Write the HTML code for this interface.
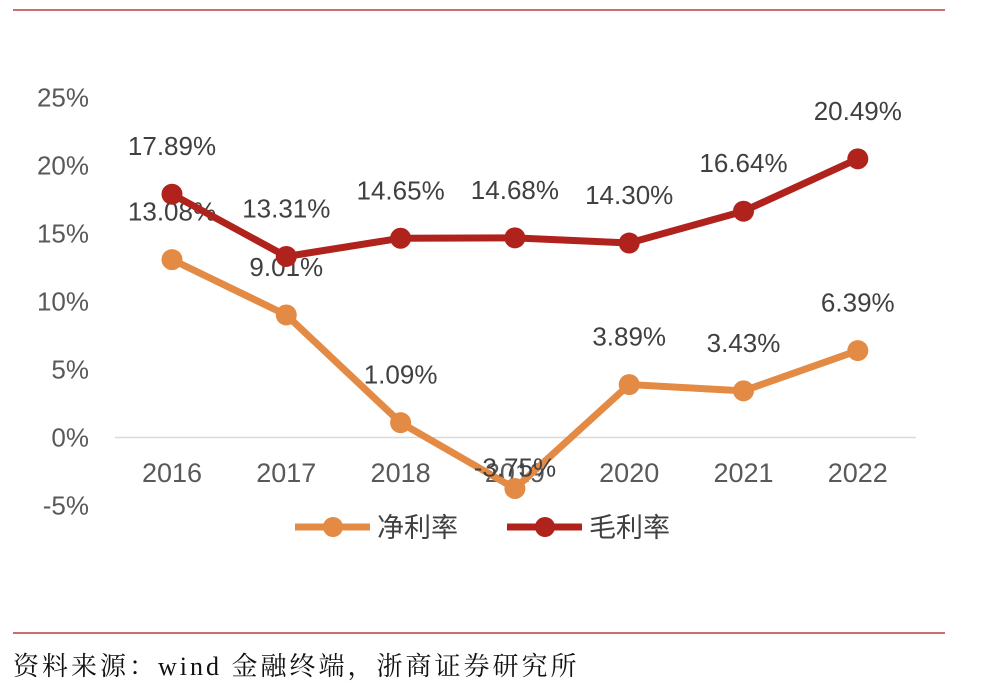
<!DOCTYPE html>
<html><head><meta charset="utf-8"><style>
body{margin:0;background:#fff;width:988px;height:700px;overflow:hidden}
svg{display:block}
</style></head><body>
<svg id="c" width="988" height="700">
<line x1="13" y1="10" x2="945" y2="10" stroke="#B5413A" stroke-width="1.5"/>
<line x1="13" y1="633" x2="945" y2="633" stroke="#B5413A" stroke-width="1.5"/>
<text x="13" y="675" font-family="'Liberation Serif','Noto Serif CJK SC',serif" font-size="26" letter-spacing="3" fill="#111">资料来源：wind 金融终端，浙商证券研究所</text>
<g id="axes"></g><g id="series"></g>
<g>
<g>
<line x1="295" y1="527" x2="370" y2="527" stroke="#E38A45" stroke-width="7"/>
<circle cx="333" cy="527" r="10" fill="#E38A45"/>
<text x="377" y="537" font-family="'Liberation Sans','Noto Sans CJK SC',sans-serif" font-size="27" fill="#404040">净利率</text></g>
<g>
<line x1="507" y1="527" x2="582" y2="527" stroke="#B0231D" stroke-width="7"/>
<circle cx="545" cy="527" r="10" fill="#B0231D"/>
<text x="589" y="537" font-family="'Liberation Sans','Noto Sans CJK SC',sans-serif" font-size="27" fill="#404040">毛利率</text></g>
</g>
</svg>
<script>
const years=["2016","2017","2018","2019","2020","2021","2022"];
const netMargin=[13.08,9.01,1.09,-3.75,3.89,3.43,6.39];
const grossMargin=[17.89,13.31,14.65,14.68,14.30,16.64,20.49];
const yTicks=[25,20,15,10,5,0,-5];
const NS="http://www.w3.org/2000/svg";
const FONT="'Liberation Sans','Noto Sans CJK SC',sans-serif";
function xs(i){return 172+i*114.3;}
function ys(v){return 437.5-v*13.6;}
function mk(tag,attrs,parent){const e=document.createElementNS(NS,tag);for(const k in attrs)e.setAttribute(k,attrs[k]);parent.appendChild(e);return e;}
const ax=document.getElementById('axes');
const zl=mk('line',{x1:115,x2:916,y1:ys(0),y2:ys(0),stroke:'#d9d9d9','stroke-width':1.5},ax);


yTicks.forEach(t=>{const e=mk('text',{x:89,y:ys(t)+9,'text-anchor':'end','font-family':FONT,'font-size':26,fill:'#595959'},ax);e.textContent=t+'%';

});
years.forEach((y,i)=>{const e=mk('text',{x:xs(i),y:482,'text-anchor':'middle','font-family':FONT,'font-size':27,fill:'#595959'},ax);e.textContent=y;

});
const sg=document.getElementById('series');
function series(vals,color,name){
 const g=mk('g',{},sg);
 
 
 mk('polyline',{points:vals.map((v,i)=>xs(i)+','+ys(v)).join(' '),fill:'none',stroke:color,'stroke-width':7,'stroke-linejoin':'round'},g);
 vals.forEach((v,i)=>{const c=mk('circle',{cx:xs(i),cy:ys(v),r:10.5,fill:color},g);
 
 });
 vals.forEach((v,i)=>{const off=v<0?-12:-39;const t=mk('text',{x:xs(i),y:ys(v)+off,'text-anchor':'middle','font-family':FONT,'font-size':26,fill:'#404040'},g);t.textContent=v.toFixed(2)+'%';
 
 });
}
series(netMargin,'#E38A45','net-margin');
series(grossMargin,'#B0231D','gross-margin');
</script>
</body></html>
